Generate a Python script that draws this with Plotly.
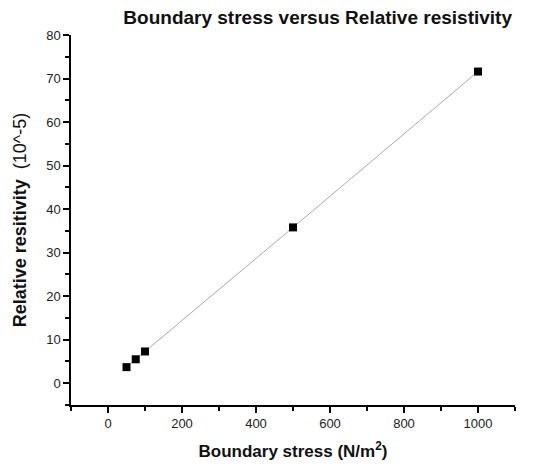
import plotly.graph_objects as go

stress = [50, 75, 100, 500, 1000]
resistivity = [3.7, 5.5, 7.3, 35.8, 71.6]

title_text = "Boundary stress versus Relative resistivity"
x_title = "<b>Boundary stress (N/m<sup>2</sup>)</b>"
y_title = "<b>Relative resitivity</b>  (10^-5)"

fig = go.Figure()
fig.add_trace(go.Scatter(
    x=stress, y=resistivity, mode="lines",
    line=dict(color="#a8a8a8", width=1), showlegend=False, hoverinfo="skip"))
fig.add_trace(go.Scatter(
    x=stress, y=resistivity, mode="markers",
    marker=dict(symbol="square", size=8, color="black"), showlegend=False))

axis_common = dict(
    showgrid=False, zeroline=False, showline=True, linecolor="black", linewidth=1.5,
    ticks="outside", ticklen=6, tickwidth=1.5, tickcolor="black", automargin=False,
    tickfont=dict(family="Arial, Liberation Sans", size=13, color="#222"),
)

fig.update_xaxes(
    range=[-100, 1100], tick0=0, dtick=200,
    minor=dict(ticks="outside", ticklen=4, dtick=100, tick0=0, tickcolor="black", tickwidth=1.5),
    title=dict(text=x_title, font=dict(family="Arial, Liberation Sans", size=17, color="#111")),
    **axis_common)
fig.update_yaxes(
    range=[-5, 80], tick0=0, dtick=10,
    minor=dict(ticks="outside", ticklen=4, dtick=5, tick0=0, tickcolor="black", tickwidth=1.5),
    title=dict(text=y_title, font=dict(family="Arial, Liberation Sans", size=18, color="#111")),
    **axis_common)

fig.update_layout(
    width=533, height=466,
    margin=dict(l=71, r=18, t=35, b=61),
    plot_bgcolor="white", paper_bgcolor="white",
    title=dict(text=title_text, xref="container", yref="container",
               x=0.596, xanchor="center", y=0.962, yanchor="middle",
               font=dict(family="Arial, Liberation Sans", size=19, color="#111", weight="bold")),
)

fig.write_html("out.html", config={"displayModeBar": False},
               post_script="document.body.style.margin='0px';")
